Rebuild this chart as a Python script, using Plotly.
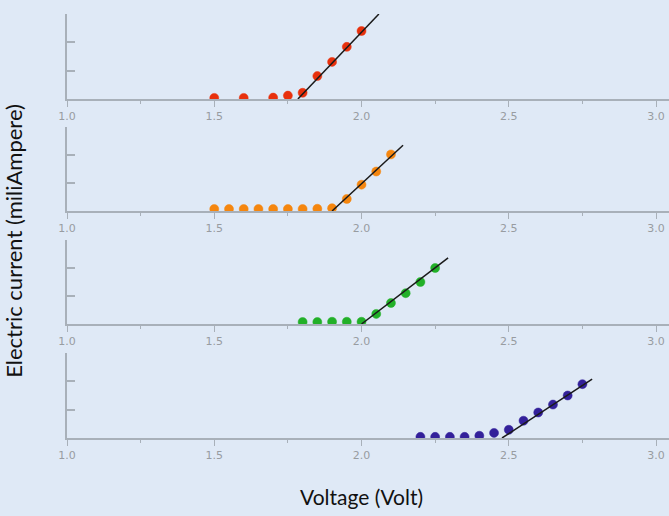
import plotly.graph_objects as go

# Data (voltage in V, current in arbitrary mA units)
red_v = [1.5, 1.6, 1.7, 1.75, 1.8, 1.85, 1.9, 1.95, 2.0]
red_i = [0.04, 0.04, 0.05, 0.12, 0.22, 0.81, 1.31, 1.84, 2.40]
red_fit_v = [1.784, 2.059]
red_fit_i = [0.0, 3.0]

orange_v = [1.5, 1.55, 1.6, 1.65, 1.7, 1.75, 1.8, 1.85, 1.9, 1.95, 2.0, 2.05, 2.1]
orange_i = [0.07, 0.07, 0.07, 0.07, 0.07, 0.07, 0.07, 0.08, 0.1, 0.43, 0.94, 1.41, 2.02]
orange_fit_v = [1.90, 2.141]
orange_fit_i = [0.0, 2.35]

green_v = [1.8, 1.85, 1.9, 1.95, 2.0, 2.05, 2.1, 2.15, 2.2, 2.25]
green_i = [0.07, 0.07, 0.08, 0.08, 0.08, 0.36, 0.75, 1.1, 1.5, 2.0]
green_fit_v = [2.0, 2.294]
green_fit_i = [0.0, 2.36]

navy_v = [2.2, 2.25, 2.3, 2.35, 2.4, 2.45, 2.5, 2.55, 2.6, 2.65, 2.7, 2.75]
navy_i = [0.04, 0.04, 0.04, 0.04, 0.08, 0.18, 0.29, 0.61, 0.9, 1.18, 1.5, 1.9]
navy_fit_v = [2.477, 2.783]
navy_fit_i = [0.0, 2.08]

x_tick_vals = [1.0, 1.5, 2.0, 2.5, 3.0]
x_tick_text = ["1.0", "1.5", "2.0", "2.5", "3.0"]

series = [
    (red_v, red_i, red_fit_v, red_fit_i, "#e8300c"),
    (orange_v, orange_i, orange_fit_v, orange_fit_i, "#f5860f"),
    (green_v, green_i, green_fit_v, green_fit_i, "#22b028"),
    (navy_v, navy_i, navy_fit_v, navy_fit_i, "#33209a"),
]

domains = [[0.7995, 1.0], [0.5354, 0.7335], [0.2689, 0.467], [0.0, 0.2005]]

bg = "#dfe9f6"
axis_col = "#a8b0b9"

fig = go.Figure()
layout = dict(
    width=669, height=516,
    margin=dict(l=67, r=0, t=14, b=78),
    paper_bgcolor=bg, plot_bgcolor=bg,
    showlegend=False,
)

for k, (vx, iy, fx, fy, col) in enumerate(series):
    n = "" if k == 0 else str(k + 1)
    xa = "x" + n
    ya = "y" + n
    fig.add_trace(go.Scatter(
        x=vx, y=iy, mode="markers", xaxis=xa, yaxis=ya,
        marker=dict(size=9, color=col, line=dict(color=col, width=0.5)),
        cliponaxis=True,
    ))
    fig.add_trace(go.Scatter(
        x=fx, y=fy, mode="lines", xaxis=xa, yaxis=ya,
        line=dict(color="#1a1a1a", width=1.5),
        cliponaxis=False,
    ))
    layout["xaxis" + n] = dict(
        domain=[0, 1], range=[1.0, 3.044], anchor=ya,
        showline=True, linecolor=axis_col, linewidth=2,
        showgrid=False, zeroline=False,
        tickmode="array", tickvals=x_tick_vals, ticktext=x_tick_text,
        ticks="outside", ticklen=6, tickwidth=1, tickcolor=axis_col,
        minor=dict(dtick=0.25, tick0=1.0, ticks="outside", ticklen=3, tickcolor=axis_col, showgrid=False),
        tickfont=dict(family="DejaVu Sans", size=11, color="#989ca1"),
    )
    layout["yaxis" + n] = dict(
        domain=domains[k], range=[0, 3], anchor=xa,
        showline=True, linecolor=axis_col, linewidth=2,
        showgrid=False, zeroline=False,
        tickmode="array", tickvals=[1, 2, 3],
        ticks="inside", ticklen=8, tickwidth=1.5, tickcolor=axis_col,
        showticklabels=False,
    )

layout["annotations"] = [
    dict(text="Voltage (Volt)", xref="paper", yref="paper", x=0.489, y=-0.137,
         xanchor="center", yanchor="middle", showarrow=False,
         font=dict(family="Lato", size=21, color="#111111")),
    dict(text="Electric current (miliAmpere)", xref="paper", yref="paper",
         x=-0.088, y=0.465, xanchor="center", yanchor="middle", textangle=-90,
         showarrow=False, font=dict(family="Lato", size=22, color="#111111")),
]

fig.update_layout(**layout)
fig.write_html(
    "out.html",
    config={"displayModeBar": False},
    post_script="document.body.style.margin='0';document.body.style.background='#dfe9f6';",
)
